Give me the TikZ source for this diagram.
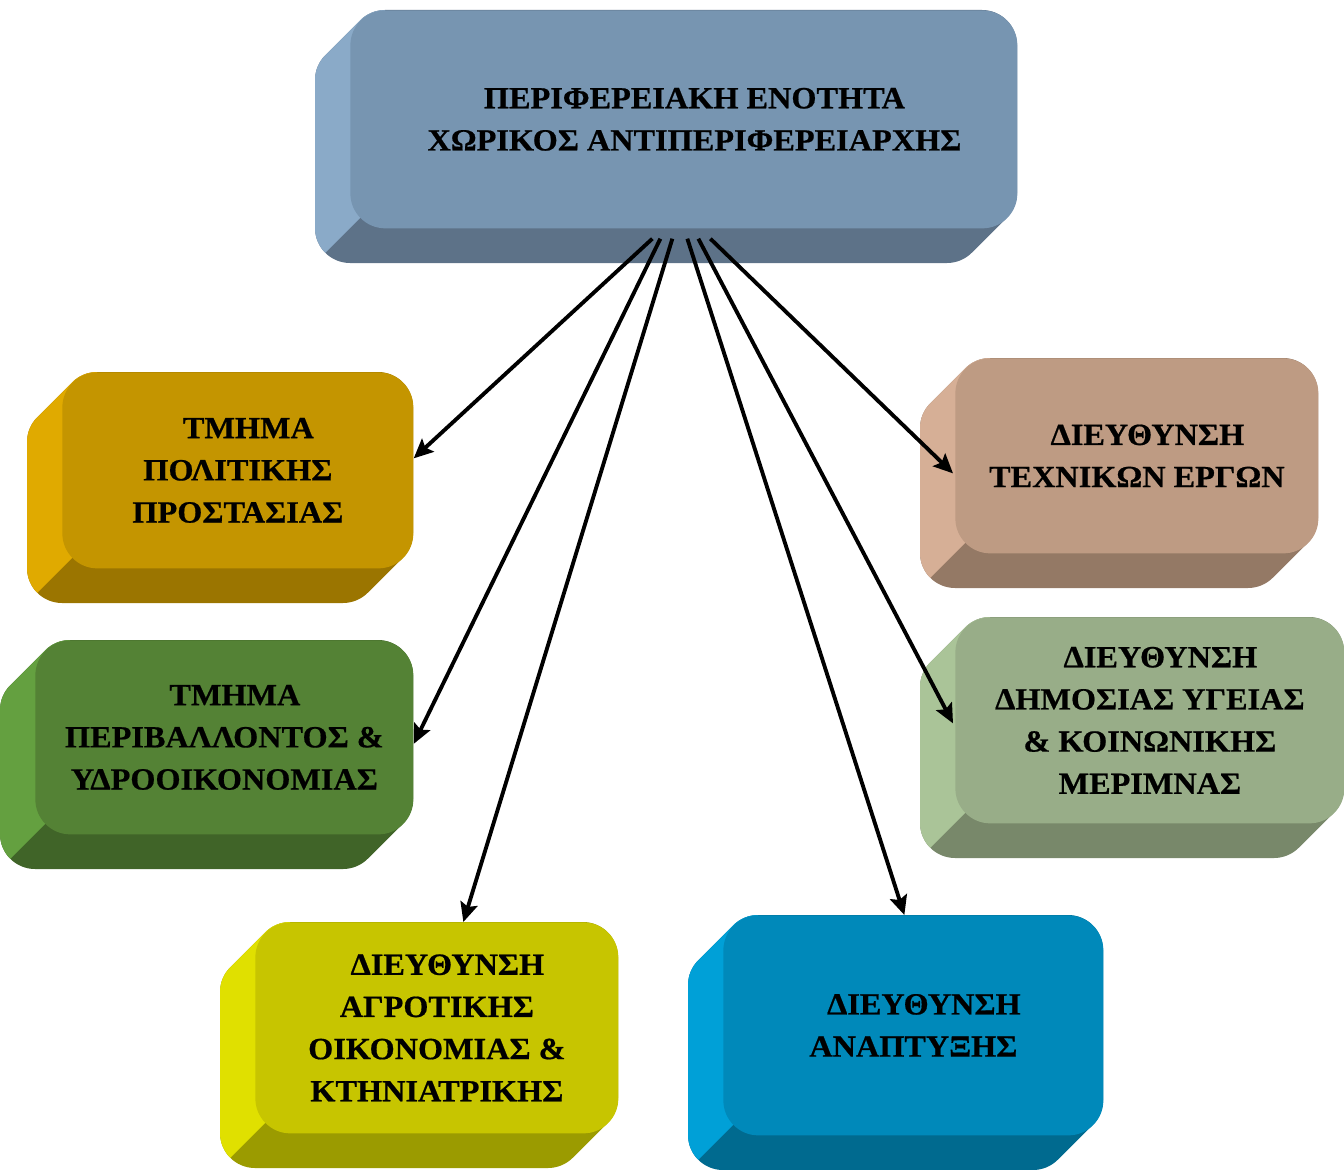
\documentclass[tikz,border=0pt]{standalone}
\usepackage{fontspec}
\setmainfont{Liberation Serif}[FakeStretch=1.05, BoldFeatures={FakeBold=0.6}]
\usetikzlibrary{calc,arrows.meta}

% colours: F = front, S = side, B = bottom
\definecolor{topF}{HTML}{7795B1}\definecolor{topS}{HTML}{8AAAC8}\definecolor{topB}{HTML}{5D7288}
\definecolor{ochF}{HTML}{C49500}\definecolor{ochS}{HTML}{E0AA00}\definecolor{ochB}{HTML}{9B7500}
\definecolor{grnF}{HTML}{548235}\definecolor{grnS}{HTML}{64A040}\definecolor{grnB}{HTML}{406428}
\definecolor{limF}{HTML}{C7C500}\definecolor{limS}{HTML}{E0E000}\definecolor{limB}{HTML}{9B9B00}
\definecolor{bluF}{HTML}{0089BA}\definecolor{bluS}{HTML}{00A0D7}\definecolor{bluB}{HTML}{006A8F}
\definecolor{tanF}{HTML}{BE9B83}\definecolor{tanS}{HTML}{D6AF96}\definecolor{tanB}{HTML}{947965}
\definecolor{sagF}{HTML}{98AD88}\definecolor{sagS}{HTML}{AAC498}\definecolor{sagB}{HTML}{78886A}

\newcommand{\crad}{35}
\newcommand{\cdep}{35}
\newcommand{\ind}{\hspace*{12pt}}

% outline of a slab: front face swept down-left
\newcommand{\slabhull}[4]{(#1+\crad,-#2) -- (#3-\crad,-#2) arc[start angle=90,end angle=0,radius=\crad]
  -- (#3,-#4+\crad) arc[start angle=0,end angle=-45,radius=\crad] -- ++(-\cdep,-\cdep)
  arc[start angle=-45,end angle=-90,radius=\crad] -- (#1-\cdep+\crad,-#4-\cdep)
  arc[start angle=270,end angle=180,radius=\crad] -- (#1-\cdep,-#2-\cdep-\crad)
  arc[start angle=180,end angle=135,radius=\crad] -- ++(\cdep,\cdep)
  arc[start angle=135,end angle=90,radius=\crad] -- cycle}

% #1 name, #2 colour, #3 left, #4 top, #5 right, #6 bottom (pixels), #7 text
\newcommand{\slab}[7]{%
  \fill[#2B] \slabhull{#3}{#4}{#5}{#6};
  \begin{scope}
    \clip \slabhull{#3}{#4}{#5}{#6};
    \fill[#2S] (#3-50,-#4+5) -- (#3+\crad,-#4+5) -- (#3+\crad,-#6+\crad) -- (#3-50,-#6-50) -- cycle;
  \end{scope}
  \node[face, fill=#2F, minimum width={(#5-#3)*0.02cm}, minimum height={(#6-#4)*0.02cm}] (#1) at (#3,-#4) {#7};
}

\tikzset{
  face/.style={anchor=north west, rounded corners=0.7cm, inner sep=0pt, align=center,
    font=\bfseries\fontsize{17.5}{24}\selectfont},
  link/.style={-{Stealth[length=11pt,width=10pt,inset=2pt]}, line width=2.2pt}
}

\begin{document}
\begin{tikzpicture}[x=0.02cm, y=0.02cm]
  \useasboundingbox (0,0) rectangle (1344,-1169);

  %Define nodes
  \slab{top}{top}{350}{10}{1017}{228}{\ind ΠΕΡΙΦΕΡΕΙΑΚΗ ΕΝΟΤΗΤΑ\\ \ind ΧΩΡΙΚΟΣ ΑΝΤΙΠΕΡΙΦΕΡΕΙΑΡΧΗΣ}
  \slab{prostasia}{och}{62}{372}{413}{568}{\ind ΤΜΗΜΑ\\ ΠΟΛΙΤΙΚΗΣ\\ ΠΡΟΣΤΑΣΙΑΣ}
  \slab{perivallon}{grn}{35}{640}{413}{834}{\ind ΤΜΗΜΑ\\ ΠΕΡΙΒΑΛΛΟΝΤΟΣ \&\\ ΥΔΡΟΟΙΚΟΝΟΜΙΑΣ}
  \slab{agrotiki}{lim}{255}{922}{618}{1133}{\ind ΔΙΕΥΘΥΝΣΗ\\ ΑΓΡΟΤΙΚΗΣ\\ ΟΙΚΟΝΟΜΙΑΣ \&\\ ΚΤΗΝΙΑΤΡΙΚΗΣ}
  \slab{anaptyxi}{blu}{723}{915}{1103}{1135}{\ind ΔΙΕΥΘΥΝΣΗ\\ ΑΝΑΠΤΥΞΗΣ}
  \slab{texnika}{tan}{955}{358}{1318}{553}{\ind ΔΙΕΥΘΥΝΣΗ\\ ΤΕΧΝΙΚΩΝ ΕΡΓΩΝ}
  \slab{ygeia}{sag}{955}{617}{1344}{823}{\ind ΔΙΕΥΘΥΝΣΗ\\ ΔΗΜΟΣΙΑΣ ΥΓΕΙΑΣ\\ \& ΚΟΙΝΩΝΙΚΗΣ\\ ΜΕΡΙΜΝΑΣ}

  % arrow starts under the top box
  \coordinate (s_1) at ($(top.south)+(-31.5,-10)$);
  \coordinate (s_2) at ($(top.south)+(-23.5,-10)$);
  \coordinate (s_3) at ($(top.south)+(-11.5,-10)$);
  \coordinate (s_4) at ($(top.south)+(3.5,-10)$);
  \coordinate (s_5) at ($(top.south)+(14.5,-10)$);
  \coordinate (s_6) at ($(top.south)+(26.5,-10)$);

  % Connect the nodes
  \draw[link] (s_1) -- ([yshift=0.24cm]prostasia.east);
  \draw[link] (s_2) -- ([yshift=-0.13cm]perivallon.east);
  \draw[link] (s_3) -- ([xshift=0.53cm]agrotiki.north);
  \draw[link] (s_4) -- ([xshift=-0.18cm]anaptyxi.north);
  \draw[link] (s_5) -- ([xshift=-0.04cm,yshift=-0.06cm]ygeia.west);
  \draw[link] (s_6) -- ([xshift=-0.04cm,yshift=-0.35cm]texnika.west);
\end{tikzpicture}
\end{document}
